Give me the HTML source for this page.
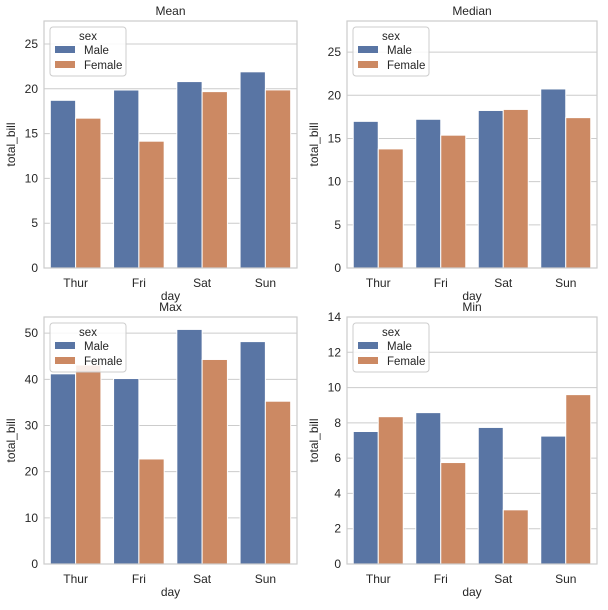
<!DOCTYPE html>
<html><head><meta charset="utf-8"><style>
body{margin:0;background:#fff;font-family:"Liberation Sans",sans-serif}
svg text{font-family:"Liberation Sans",sans-serif;fill:#262626}
</style></head><body>
<svg id="fig" width="608" height="605" xmlns="http://www.w3.org/2000/svg"></svg>
<script>
const days = ["Thur","Fri","Sat","Sun"];
const sexes = ["Male","Female"];
const meanMale = [18.71,19.86,20.80,21.89];
const meanFemale = [16.72,14.15,19.68,19.87];
const medianMale = [16.98,17.22,18.24,20.73];
const medianFemale = [13.79,15.38,18.36,17.41];
const maxMale = [41.19,40.17,50.81,48.17];
const maxFemale = [43.11,22.75,44.30,35.26];
const minMale = [7.51,8.58,7.74,7.25];
const minFemale = [8.35,5.75,3.07,9.60];
const meanTicks = [0,5,10,15,20,25];
const medianTicks = [0,5,10,15,20,25];
const maxTicks = [0,10,20,30,40,50];
const minTicks = [0,2,4,6,8,10,12,14];
const colors = ["#5975a4","#cc8963"];
const NS="http://www.w3.org/2000/svg";
const svg=document.getElementById('fig');
function mk(tag,attrs,parent,text){const e=document.createElementNS(NS,tag);for(const k in attrs)e.setAttribute(k,attrs[k]);if(text!==undefined)e.textContent=text;(parent||svg).appendChild(e);return e;}
function panel(key,title,male,female,ticks,ymax,x0,x1,y0,y1){
  const g=mk('g',{});
  
  
  const xs=v=>x0+(v+0.5)/4*(x1-x0);
  const ys=v=>y1-v/ymax*(y1-y0);
  ticks.forEach(t=>{
    const l=mk('line',{x1:x0,x2:x1,y1:ys(t),y2:ys(t),stroke:'#cccccc','stroke-width':1},g);
    
    
    const tx=mk('text',{x:x0-6,y:ys(t)+4,'text-anchor':'end','font-size':12},g,String(t));
    
    
  });
  [male,female].forEach((arr,si)=>{
    arr.forEach((v,i)=>{
      const bx=xs(i-0.4+si*0.4);
      const r=mk('rect',{x:bx,y:ys(v),width:xs(0.4)-xs(0),height:ys(0)-ys(v),fill:colors[si],stroke:'#fff','stroke-width':1},g);
      
      
    });
  });
  const fr=mk('rect',{x:x0,y:y0,width:x1-x0,height:y1-y0,fill:'none',stroke:'#cccccc','stroke-width':1.2},g);
  
  
  days.forEach((d,i)=>{
    const t=mk('text',{x:xs(i),y:y1+19,'text-anchor':'middle','font-size':12},g,d);
    
    
  });
  const xt=mk('text',{x:(x0+x1)/2,y:y1+32,'text-anchor':'middle','font-size':12},g,'day');
  
  
  const cy=(y0+y1)/2;
  const yt=mk('text',{x:x0-29,y:cy,'text-anchor':'middle','font-size':12,transform:'rotate(-90 '+(x0-29)+' '+cy+')'},g,'total_bill');
  
  
  const tt=mk('text',{x:(x0+x1)/2,y:y0-6,'text-anchor':'middle','font-size':12},g,title);
  
  
  const lg=mk('g',{},g);
  
  
  mk('rect',{x:x0+6,y:y0+6,width:76,height:49,rx:3,fill:'#fff','fill-opacity':0.85,stroke:'#cccccc'},lg);
  mk('text',{x:x0+44,y:y0+19,'text-anchor':'middle','font-size':11.5},lg,'sex');
  sexes.forEach((s,i)=>{
    const p=mk('rect',{x:x0+11,y:y0+25+i*15,width:20,height:7,fill:colors[i]},lg);
    
    
    const lt=mk('text',{x:x0+40,y:y0+33+i*15,'font-size':11.5},lg,s);
    
    
  });
}
panel('mean','Mean',meanMale,meanFemale,meanTicks,27.56,44,297,21,268);
panel('median','Median',medianMale,medianFemale,medianTicks,28.6,347,597,21,268);
panel('max','Max',maxMale,maxFemale,maxTicks,53.5,44,297,317,564);
panel('min','Min',minMale,minFemale,minTicks,14,347,597,317,564);
</script>
</body></html>
